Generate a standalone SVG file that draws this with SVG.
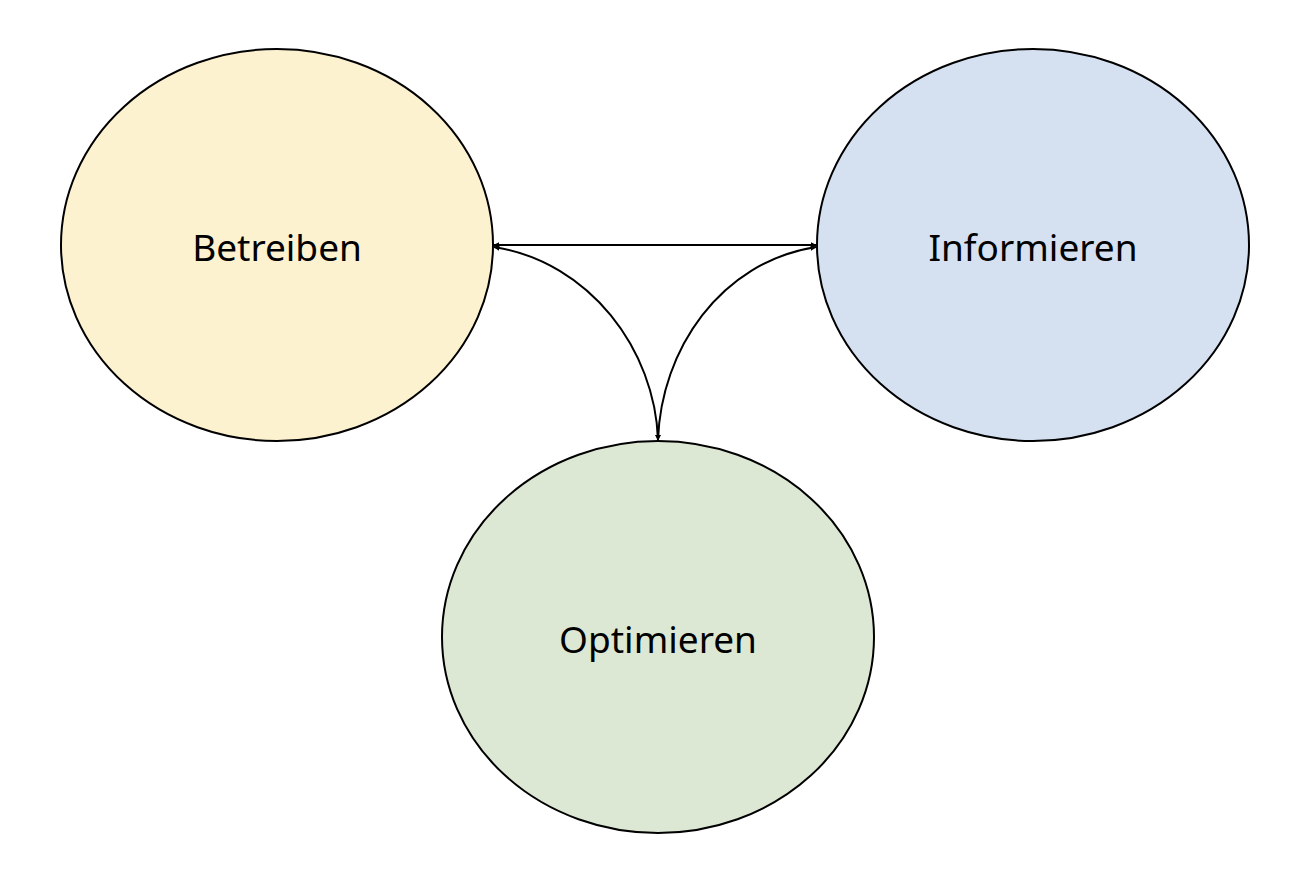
<svg xmlns="http://www.w3.org/2000/svg" width="1310" height="870" viewBox="0 0 1310 870">
<style>
.n{stroke:#000;stroke-width:2}
.t{font-family:"Noto Sans","DejaVu Sans",sans-serif;font-size:37px;fill:#000;text-anchor:middle;dominant-baseline:central}
.c{fill:none;stroke:#000;stroke-width:2;marker-start:url(#a);marker-end:url(#a)}
</style>
<defs>
<marker id="a" viewBox="0 0 10 10" refX="9" refY="5" markerWidth="6" markerHeight="6" orient="auto-start-reverse" markerUnits="userSpaceOnUse"><path d="M0,0 L10,5 L0,10 z" fill="#000"/></marker>
</defs>
<rect width="1310" height="870" fill="#fff"/>
<g id="betreiben"><ellipse class="n" cx="277" cy="245" rx="216" ry="196" fill="#fdf2d0"/><text class="t" x="277" y="246">Betreiben</text></g>
<g id="informieren"><ellipse class="n" cx="1033" cy="245" rx="216" ry="196" fill="#d5e1f1"/><text class="t" x="1033" y="246">Informieren</text></g>
<g id="optimieren"><ellipse class="n" cx="658" cy="637" rx="216" ry="196" fill="#dde8d4"/><text class="t" x="658" y="638">Optimieren</text></g>
<g id="connectors">
<path class="c" d="M494,245 L816,245"/>
<path class="c" d="M494,247 C590,262 655,350 658,440"/>
<path class="c" d="M816,247 C720,262 661,350 658,440"/>
</g>
</svg>
